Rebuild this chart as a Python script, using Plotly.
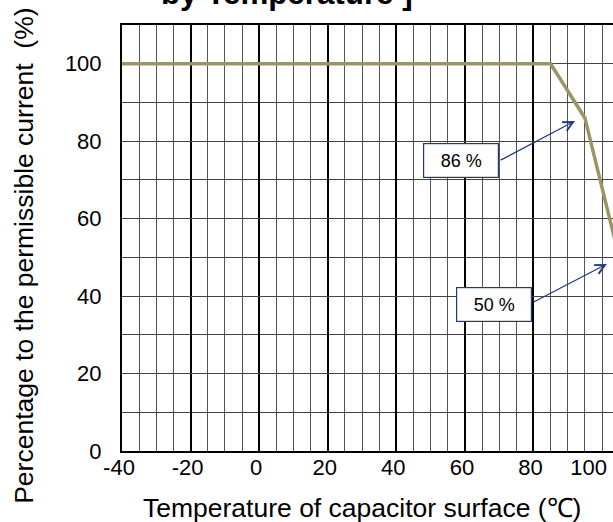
import plotly.graph_objects as go

# derating curve
temp = [-40, 85, 95, 105]
pct = [100, 100, 86, 50]

x_ticks = [-40, -20, 0, 20, 40, 60, 80]
x_last_tick = [100]   # drawn left of its gridline, as in the picture
y_ticks = [0, 20, 40, 60, 80, 100]

# callouts: label, point, tail of the arrow, box centre
labels = ["86 %", "50 %"]
tips_x = [92.1, 101.4]
tips_y = [85.2, 48.3]
tails_x = [70.0, 79.5]
tails_y = [74.9, 38.2]
box_x = [59.0, 68.5]
box_y = [74.9, 37.9]

navy = "#1f3a78"
font = "Liberation Sans, Arial, sans-serif"

fig = go.Figure()
fig.add_trace(go.Scatter(x=temp, y=pct, mode="lines",
                         line=dict(color="#9c9466", width=3.5),
                         showlegend=False, hoverinfo="skip"))
# invisible copy so the second x axis (last tick label) gets drawn
fig.add_trace(go.Scatter(x=temp, y=pct, mode="lines", xaxis="x2",
                         line=dict(width=0), opacity=0,
                         showlegend=False, hoverinfo="skip"))

for i in range(len(labels)):
    fig.add_annotation(x=tips_x[i], y=tips_y[i], ax=tails_x[i], ay=tails_y[i],
                       xref="x", yref="y", axref="x", ayref="y",
                       text="", showarrow=True, arrowhead=5, arrowsize=1.6,
                       arrowwidth=1.2, arrowcolor=navy, startstandoff=0)
    fig.add_annotation(x=box_x[i], y=box_y[i], xref="x", yref="y",
                       text=labels[i], showarrow=False,
                       font=dict(family=font, size=18, color="black"),
                       bgcolor="white", bordercolor=navy, borderwidth=1.2,
                       borderpad=0, width=74, height=33)

fig.add_annotation(x=0.337, y=1.075, xref="paper", yref="paper",
                   text="<b>by Temperature ]</b>", showarrow=False,
                   xanchor="center", yanchor="middle",
                   font=dict(family=font, size=31.3, color="black"))
fig.add_annotation(x=-0.2, y=0.4577, xref="paper", yref="paper",
                   text="Percentage to the permissible current\u00a0 (%)",
                   textangle=-90, showarrow=False,
                   xanchor="center", yanchor="middle",
                   font=dict(family=font, size=26.5, color="black"))
fig.add_annotation(x=0.4888, y=-0.1338, xref="paper", yref="paper",
                   text="Temperature of capacitor surface (\u2103)",
                   showarrow=False, xanchor="center", yanchor="middle",
                   font=dict(family=font, size=26.5, color="black"))

fig.update_layout(
    xaxis=dict(range=[-40, 103.2], tickvals=x_ticks,
               ticktext=[str(v) for v in x_ticks],
               showgrid=True, gridcolor="black", gridwidth=2,
               minor=dict(tickvals=list(range(-40, 105, 5)), showgrid=True,
                          gridcolor="#555555", gridwidth=1),
               showline=True, linecolor="black", linewidth=2, mirror=True,
               ticks="", zeroline=False, ticklabelstandoff=-4,
               ticklabelshift=-3, automargin=False,
               tickfont=dict(family=font, size=22, color="black")),
    xaxis2=dict(range=[-40, 103.2], overlaying="x", side="bottom",
                tickvals=x_last_tick, ticktext=[str(v) for v in x_last_tick],
                showgrid=False, showline=False, zeroline=False, ticks="",
                ticklabelposition="outside left", ticklabelshift=5,
                ticklabelstandoff=1, automargin=False,
                tickfont=dict(family=font, size=22, color="black")),
    yaxis=dict(range=[0, 110], tickvals=y_ticks,
               ticktext=[str(v) for v in y_ticks],
               showgrid=True, gridcolor="#444444", gridwidth=1,
               minor=dict(dtick=10, tick0=0, showgrid=True,
                          gridcolor="#444444", gridwidth=1),
               showline=True, linecolor="black", linewidth=2,
               ticks="", zeroline=False, ticklabelstandoff=14,
               automargin=False,
               tickfont=dict(family=font, size=22, color="black")),
    width=613, height=522,
    margin=dict(l=122, r=0, t=25, b=71, autoexpand=False),
    plot_bgcolor="white", paper_bgcolor="white")

# the page body has an 8px margin by default; drop it so the figure sits at 0,0
fig.write_html("out.html", config={"displayModeBar": False},
               post_script="document.body.style.margin='0';")
